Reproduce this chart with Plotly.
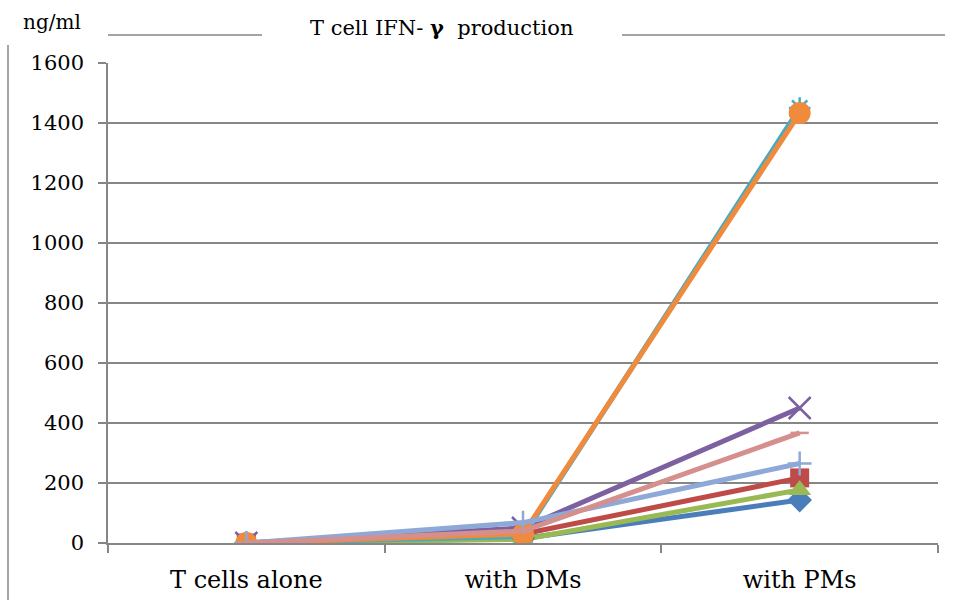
import plotly.graph_objects as go

categories = ["T cells alone", "with DMs", "with PMs"]
series_names = ["S1", "S2", "S3", "S4", "S5", "S6", "S7", "S8"]
s1 = [0, 15, 143]
s2 = [0, 30, 217]
s3 = [0, 12, 177]
s4 = [0, 50, 450]
s5 = [0, 22, 1450]
s6 = [0, 30, 1433]
s7 = [0, 68, 265]
s8 = [0, 40, 367]
values = [s1, s2, s3, s4, s5, s6, s7, s8]
yticks = [0, 200, 400, 600, 800, 1000, 1200, 1400, 1600]

colors = ["#4A7EBB", "#BE4B48", "#98B954", "#7D60A0", "#46AAC5", "#F08A3C", "#8EA9D8", "#D58F8C"]
symbols = ["diamond", "square", "triangle-up", "x-thin-open", "asterisk-open", "circle", "cross-thin-open", "line-ew-open"]
sizes = [19, 19, 20, 22, 18, 22, 17, 13]

FONT = "DejaVu Serif"
fig = go.Figure()
for name, vals, c, sym, sz in zip(series_names, values, colors, symbols, sizes):
    fig.add_trace(go.Scatter(
        x=categories, y=vals, name=name, mode="lines+markers",
        line=dict(color=c, width=5),
        marker=dict(symbol=sym, size=sz, color=c, line=dict(color=c, width=2.5 if "open" in sym else 0)),
        showlegend=False,
    ))

L, R, T, B = 108, 938, 63, 543
W, H = R - L, B - T
def px(x):
    return (x - L) / W
def py(y):
    return (B - y) / H

fig.update_layout(
    width=957, height=607,
    margin=dict(l=L, r=957 - R, t=T, b=607 - B),
    paper_bgcolor="white", plot_bgcolor="white",
    font=dict(family=FONT, size=20, color="black"),
    xaxis=dict(
        type="category", range=[-0.5, 2.5], showgrid=False,
        showline=True, linecolor="#868686", linewidth=1.5,
        ticks="outside", tickson="boundaries", ticklen=8, tickcolor="#868686", tickwidth=1.5,
        ticklabelstandoff=14, tickfont=dict(family=FONT, size=24),
    ),
    yaxis=dict(
        range=[0, 1600], tickvals=yticks, ticktext=[str(v) for v in yticks],
        showgrid=True, gridcolor="#868686", gridwidth=1.5,
        showline=True, linecolor="#868686", linewidth=1.5,
        ticks="outside", ticklen=8, tickcolor="#868686", tickwidth=1.5,
        ticklabelstandoff=10, zeroline=False, tickfont=dict(family=FONT, size=21),
    ),
    shapes=[
        dict(type="line", xref="paper", yref="paper", x0=px(108), x1=px(262), y0=py(35), y1=py(35),
             line=dict(color="#868686", width=1.5)),
        dict(type="line", xref="paper", yref="paper", x0=px(622), x1=px(945), y0=py(35), y1=py(35),
             line=dict(color="#868686", width=1.5)),
        dict(type="line", xref="paper", yref="paper", x0=px(8), x1=px(8), y0=py(45), y1=py(600),
             line=dict(color="#868686", width=1.5)),
    ],
    annotations=[
        dict(text="T cell IFN- <b>γ</b>  production", xref="paper", yref="paper",
             x=px(441), y=py(28), showarrow=False, xanchor="center", yanchor="middle",
             font=dict(family=FONT, size=21, color="black")),
        dict(text="ng/ml", xref="paper", yref="paper", x=px(52), y=py(22), showarrow=False,
             xanchor="center", yanchor="middle", font=dict(family=FONT, size=20, color="black")),
    ],
)
fig.write_html("out.html")
